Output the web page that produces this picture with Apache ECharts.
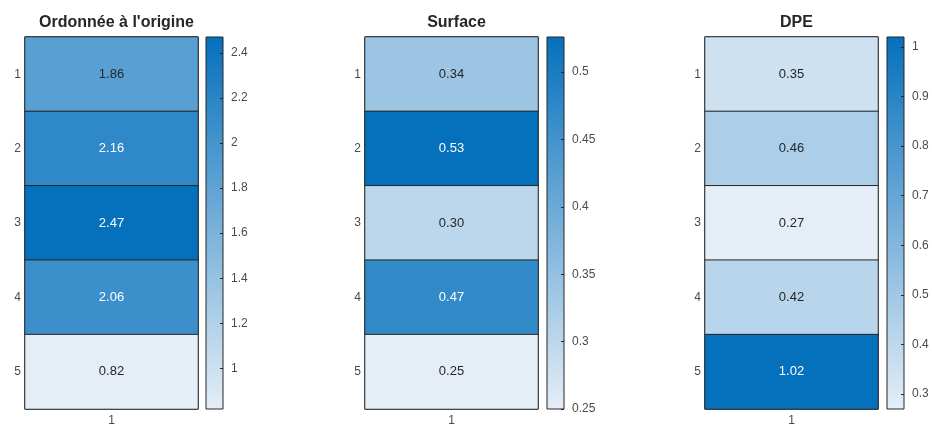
<!DOCTYPE html>
<html>
<head>
<meta charset="utf-8">
<script src="https://cdn.jsdelivr.net/npm/echarts@6/dist/echarts.min.js"></script>
<style>
html,body{margin:0;padding:0;background:#fff;}
#chart{width:932px;height:430px;}
</style>
</head>
<body>
<div id="chart"></div>
<script>
const rowLabels = ['1', '2', '3', '4', '5'];
const colLabels = ['1'];
const panelTitles = ["Ordonnée à l'origine", 'Surface', 'DPE'];
const interceptValues = [1.86, 2.16, 2.47, 2.06, 0.82];
const surfaceValues = [0.34, 0.526, 0.30, 0.47, 0.25];
const dpeValues = [0.35, 0.46, 0.27, 0.42, 1.02];
const interceptTicks = [1, 1.2, 1.4, 1.6, 1.8, 2, 2.2, 2.4];
const surfaceTicks = [0.25, 0.3, 0.35, 0.4, 0.45, 0.5];
const dpeTicks = [0.3, 0.4, 0.5, 0.6, 0.7, 0.8, 0.9, 1];

const FONT = "'Liberation Sans', Arial, sans-serif";
const LIGHT = '#e5eef7';
const DARK = '#0570bc';
const TEXT = '#262626';
const AXT = '#4a4a4a';

const panels = [
  { title: panelTitles[0], values: interceptValues, ticks: interceptTicks, left: 25, cbLeft: 206 },
  { title: panelTitles[1], values: surfaceValues, ticks: surfaceTicks, left: 365, cbLeft: 547 },
  { title: panelTitles[2], values: dpeValues, ticks: dpeTicks, left: 705, cbLeft: 887 }
];
const TOP = 37, H = 372, W = 173, CBW = 17;

const option = {
  animation: false,
  backgroundColor: '#fff',
  textStyle: { fontFamily: FONT },
  title: [], grid: [], xAxis: [], yAxis: [], series: [], visualMap: []
};

panels.forEach((p, k) => {
  const mn = Math.min(...p.values), mx = Math.max(...p.values);
  option.title.push({
    text: p.title, left: p.left + W / 2, top: 10, textAlign: 'center',
    textStyle: { fontFamily: FONT, fontSize: 16, fontWeight: 'bold', color: TEXT }
  });
  option.grid.push({ left: p.left, top: TOP, width: W, height: H, show: true, borderColor: TEXT, borderWidth: 1, backgroundColor: 'transparent' });
  option.grid.push({
    left: p.cbLeft, top: TOP, width: CBW, height: H, show: true, borderColor: TEXT, borderWidth: 1,
    backgroundColor: new echarts.graphic.LinearGradient(0, 0, 0, 1, [{ offset: 0, color: DARK }, { offset: 1, color: LIGHT }])
  });
  const gi = k * 2, ci = k * 2 + 1;
  option.xAxis.push({
    type: 'category', data: colLabels, gridIndex: gi, position: 'bottom',
    axisLine: { show: false }, axisTick: { show: false }, splitArea: { show: false },
    axisLabel: { fontFamily: FONT, fontSize: 12, color: AXT, margin: 6 }
  });
  option.yAxis.push({
    type: 'category', data: rowLabels, gridIndex: gi, inverse: true,
    axisLine: { show: false }, axisTick: { show: false },
    axisLabel: { fontFamily: FONT, fontSize: 12, color: AXT, margin: 4 }
  });
  option.xAxis.push({ type: 'category', data: [''], gridIndex: ci, show: false });
  option.yAxis.push({
    type: 'value', gridIndex: ci, position: 'right', min: mn, max: mx,
    splitLine: { show: false }, axisLine: { show: false },
    axisTick: { show: true, inside: true, length: 3, lineStyle: { color: TEXT }, customValues: p.ticks },
    axisLabel: { fontFamily: FONT, fontSize: 12, color: AXT, margin: 8, customValues: p.ticks }
  });
  option.visualMap.push({
    type: 'continuous', show: false, min: mn, max: mx, seriesIndex: k, dimension: 2,
    inRange: { color: [LIGHT, DARK] }
  });
  option.series.push({
    type: 'heatmap', xAxisIndex: gi, yAxisIndex: gi,
    data: p.values.map((v, i) => ({
      value: [0, i, v],
      label: { color: (v - mn) / (mx - mn) > 0.7 ? '#ffffff' : TEXT }
    })),
    itemStyle: { borderColor: TEXT, borderWidth: 1 },
    label: { show: true, fontFamily: FONT, fontSize: 13, formatter: (d) => d.value[2].toFixed(2) },
    emphasis: { disabled: true }
  });
});

const chart = echarts.init(document.getElementById('chart'), null, { renderer: 'canvas' });
chart.setOption(option);
</script>
</body>
</html>
